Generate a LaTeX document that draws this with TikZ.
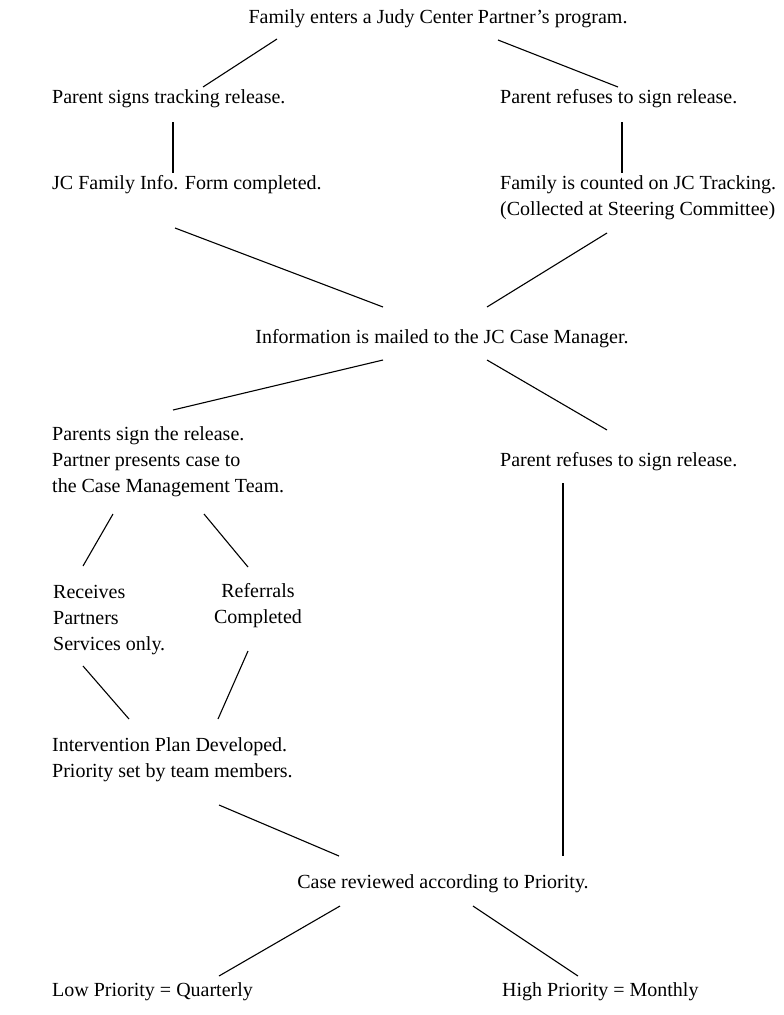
\documentclass[tikz,border=0pt]{standalone}
\usepackage{fontspec}
\setmainfont{Liberation Serif}
\begin{document}
\begin{tikzpicture}[x=1pt,y=-1pt,
  txt/.style={inner sep=0pt, font=\fontsize{20}{26}\selectfont, align=left},
  conn/.style={line width=1.1pt, line cap=butt}]
\useasboundingbox (0,0) rectangle (784,1015);
% nodes
\node[txt] (fam) at (438,19) {Family enters a Judy Center Partner’s program.};
\node[txt,anchor=west] (sign1) at (52,99) {Parent signs tracking release.};
\node[txt,anchor=west] (ref1) at (500,99) {Parent refuses to sign release.};
\node[txt,anchor=west] (form) at (52,185) {JC Family Info. Form completed.};
\node[txt,anchor=west] (count) at (500,198) {Family is counted on JC Tracking.\\(Collected at Steering Committee)};
\node[txt] (info) at (442,339) {Information is mailed to the JC Case Manager.};
\node[txt,anchor=west] (sign2) at (52,462) {Parents sign the release.\\Partner presents case to\\the Case Management Team.};
\node[txt,anchor=west] (ref2) at (500,462) {Parent refuses to sign release.};
\node[txt,anchor=west] (recv) at (53,620) {Receives\\Partners\\Services only.};
\node[txt,align=center] (refl) at (258,606) {Referrals\\Completed};
\node[txt,anchor=west] (plan) at (52,760) {Intervention Plan Developed.\\Priority set by team members.};
\node[txt] (rev) at (443,884) {Case reviewed according to Priority.};
\node[txt,anchor=west] (low) at (52,992) {Low Priority = Quarterly};
\node[txt,anchor=west] (high) at (502,992) {High Priority = Monthly};
% connector ends
\coordinate (fam-a) at (277,39);   \coordinate (sign1-a) at (203,87);
\coordinate (fam-b) at (498,40);   \coordinate (ref1-a) at (618,87);
\coordinate (sign1-b) at (173,122); \coordinate (form-a) at (173,173);
\coordinate (ref1-b) at (622,122);  \coordinate (count-a) at (622,173);
\coordinate (form-b) at (175,228);  \coordinate (info-a) at (383,307);
\coordinate (count-b) at (607,233); \coordinate (info-b) at (487,307);
\coordinate (info-c) at (383,360);  \coordinate (sign2-a) at (173,410);
\coordinate (info-d) at (487,360);  \coordinate (ref2-a) at (607,430);
\coordinate (sign2-b) at (113,514); \coordinate (recv-a) at (83,566);
\coordinate (sign2-c) at (204,514); \coordinate (refl-a) at (248,567);
\coordinate (recv-b) at (83,666);   \coordinate (plan-a) at (129,719);
\coordinate (refl-b) at (248,651);  \coordinate (plan-b) at (218,719);
\coordinate (plan-c) at (219,805);  \coordinate (rev-a) at (339,856);
\coordinate (ref2-b) at (563,483);  \coordinate (rev-b) at (563,856);
\coordinate (rev-c) at (340,906);   \coordinate (low-a) at (219,976);
\coordinate (rev-d) at (473,906);   \coordinate (high-a) at (578,976);
% connectors
\draw[conn] (fam-a) -- (sign1-a);
\draw[conn] (fam-b) -- (ref1-a);
\draw[conn] (sign1-b) -- (form-a);
\draw[conn] (ref1-b) -- (count-a);
\draw[conn] (form-b) -- (info-a);
\draw[conn] (count-b) -- (info-b);
\draw[conn] (info-c) -- (sign2-a);
\draw[conn] (info-d) -- (ref2-a);
\draw[conn] (sign2-b) -- (recv-a);
\draw[conn] (sign2-c) -- (refl-a);
\draw[conn] (recv-b) -- (plan-a);
\draw[conn] (refl-b) -- (plan-b);
\draw[conn] (plan-c) -- (rev-a);
\draw[conn] (ref2-b) -- (rev-b);
\draw[conn] (rev-c) -- (low-a);
\draw[conn] (rev-d) -- (high-a);
\end{tikzpicture}
\end{document}
